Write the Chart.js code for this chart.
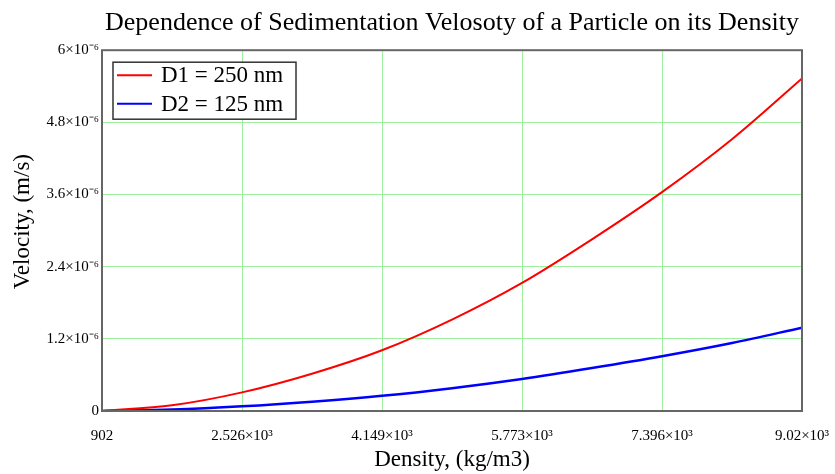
<!DOCTYPE html>
<html>
<head>
<meta charset="utf-8">
<script src="https://cdn.jsdelivr.net/npm/chart.js@4/dist/chart.umd.min.js"></script>
<style>
  body { margin: 0; background: #fff; }
  #wrap { width: 835px; height: 474px; }
</style>
</head>
<body>
<div id="wrap"><canvas id="velChart"></canvas></div>
<script>
// density values (kg/m3) where the curves were read
let densities = [902, 1714, 2526, 3337, 4149, 4961, 5773, 6584, 7396, 8208, 9020];
// velocity (m/s) for each particle size
let velD1 = [0, 0.095e-6, 0.31e-6, 0.62e-6, 1.01e-6, 1.52e-6, 2.13e-6, 2.855e-6, 3.64e-6, 4.52e-6, 5.53e-6];
let velD2 = [0, 0.024e-6, 0.078e-6, 0.155e-6, 0.253e-6, 0.38e-6, 0.533e-6, 0.714e-6, 0.91e-6, 1.13e-6, 1.385e-6];

let seriesNames = ["D1 = 250 nm", "D2 = 125 nm"];
let seriesColors = ["#ff0000", "#0000ff"];

let xTicks = [902, 2525.6, 4149.2, 5772.8, 7396.4, 9020];
let xTickLabels = ["902", "2.526×10³", "4.149×10³", "5.773×10³", "7.396×10³", "9.02×10³"];
let yTicks = [0, 1.2e-6, 2.4e-6, 3.6e-6, 4.8e-6, 6e-6];
let yTickLabels = ["0", "1.2×10⁻⁶", "2.4×10⁻⁶", "3.6×10⁻⁶", "4.8×10⁻⁶", "6×10⁻⁶"];

let yTitle = "Velocity, (m/s)";

const serif = "'Liberation Serif', 'Times New Roman', serif";

function toPoints(values){
    return values.map((v, i) => ({x: densities[i], y: v}));
}

// legend box inside the plot, top left, like the original
const boxLegend = {
    id: "boxLegend",
    afterDraw(chart){
        const ctx = chart.ctx;
        const area = chart.chartArea;
        const x0 = area.left + 11, y0 = area.top + 12;
        const w = 183, h = 57;
        ctx.save();
        ctx.fillStyle = "#fff";
        ctx.fillRect(x0, y0, w, h);
        ctx.strokeStyle = "#333";
        ctx.lineWidth = 1.5;
        ctx.strokeRect(x0, y0, w, h);
        ctx.font = "23px " + serif;
        ctx.textBaseline = "middle";
        chart.data.datasets.forEach((ds, i) => {
            const yy = y0 + 13 + i * 28.5;
            ctx.strokeStyle = ds.borderColor;
            ctx.lineWidth = 2;
            ctx.beginPath();
            ctx.moveTo(x0 + 4, yy);
            ctx.lineTo(x0 + 39, yy);
            ctx.stroke();
            ctx.fillStyle = "#000";
            ctx.fillText(ds.label, x0 + 48, yy + 1);
        });
        ctx.restore();
    }
};

// dark frame around the plot area + rotated y title (sits a bit above centre in the original)
const plotFrame = {
    id: "plotFrame",
    afterDatasetsDraw(chart){
        const ctx = chart.ctx;
        const a = chart.chartArea;
        ctx.save();
        ctx.strokeStyle = "#666";
        ctx.lineWidth = 2;
        ctx.strokeRect(a.left, a.top, a.right - a.left, a.bottom - a.top);

        ctx.translate(23, (a.top + a.bottom) / 2 - 9);
        ctx.rotate(-Math.PI / 2);
        ctx.font = "23px " + serif;
        ctx.fillStyle = "#000";
        ctx.textAlign = "center";
        ctx.textBaseline = "middle";
        ctx.fillText(yTitle, 0, 0);
        ctx.restore();
    }
};

new Chart("velChart", {
    type: "line",
    data: {
        datasets: [
            {
                label: seriesNames[0],
                data: toPoints(velD1),
                borderColor: seriesColors[0],
                borderWidth: 2,
                pointRadius: 0,
                cubicInterpolationMode: "monotone"
            },
            {
                label: seriesNames[1],
                data: toPoints(velD2),
                borderColor: seriesColors[1],
                borderWidth: 2.5,
                pointRadius: 0,
                cubicInterpolationMode: "monotone"
            }
        ]
    },
    options: {
        responsive: true,
        maintainAspectRatio: false,
        animation: false,
        layout: {
            padding: {left: 0, right: 33, top: 0, bottom: 0}
        },
        plugins: {
            legend: { display: false },
            tooltip: { enabled: false },
            title: {
                display: true,
                fullSize: false,
                text: "Dependence of Sedimentation Velosoty of a Particle on its Density",
                color: "#000",
                font: { family: serif, size: 26, weight: "normal" },
                padding: { top: 8, bottom: 11 }
            }
        },
        scales: {
            x: {
                type: "linear",
                min: 902,
                max: 9020,
                afterBuildTicks: scale => {
                    scale.ticks = xTicks.map(v => ({value: v}));
                },
                afterFit: scale => {
                    scale.height = 63;
                    scale.paddingLeft = 0;
                    scale.paddingRight = 0;
                },
                ticks: {
                    color: "#000",
                    font: { family: serif, size: 15 },
                    padding: 16,
                    maxRotation: 0,
                    autoSkip: false,
                    callback: (v, i) => xTickLabels[i]
                },
                grid: { color: "#9ef09e", lineWidth: 1, drawTicks: false },
                border: { display: false },
                title: {
                    display: true,
                    text: "Density, (kg/m3)",
                    color: "#000",
                    font: { family: serif, size: 23 },
                    padding: { top: 3, bottom: 0 }
                }
            },
            y: {
                min: 0,
                max: 6e-6,
                afterBuildTicks: scale => {
                    scale.ticks = yTicks.map(v => ({value: v}));
                },
                afterFit: scale => { scale.width = 102; },
                ticks: {
                    color: "#000",
                    font: { family: serif, size: 15 },
                    padding: 3,
                    autoSkip: false,
                    callback: (v, i) => yTickLabels[i]
                },
                grid: { color: "#9ef09e", lineWidth: 1, drawTicks: false },
                border: { display: false }
            }
        }
    },
    plugins: [plotFrame, boxLegend]
});
</script>
</body>
</html>
